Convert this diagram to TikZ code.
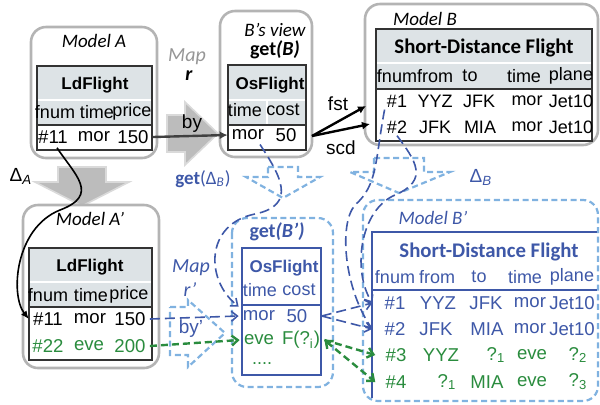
\documentclass[tikz,border=0pt]{standalone}
\usepackage{fontspec}
\setmainfont{Liberation Sans}
\newfontfamily\calfont{Carlito}
\usetikzlibrary{arrows.meta}
\definecolor{boxgray}{RGB}{180,180,180}
\definecolor{hdrfill}{RGB}{221,227,230}
\definecolor{lblue}{RGB}{128,178,224}
\definecolor{dblue}{RGB}{62,88,168}
\definecolor{fgreen}{RGB}{42,140,62}
\definecolor{arrgray}{RGB}{188,188,188}
\definecolor{mapgray}{RGB}{150,150,150}

\begin{document}
\begin{tikzpicture}[
  x=0.5pt, y=-0.5pt,
  model/.style={draw=boxgray, line width=1.3pt, rounded corners=7.5pt, fill=white},
  vmodel/.style={draw=lblue, line width=1.1pt, dash pattern=on 3pt off 1.8pt, rounded corners=7.5pt, fill=white},
  blockarr/.style={fill=arrgray, draw=arrgray!55!white, line width=0.8pt},
  vblockarr/.style={draw=lblue, line width=1.1pt, dash pattern=on 3pt off 1.8pt},
  mtitle/.style={font=\calfont\itshape\fontsize{9.5}{11}\selectfont, inner sep=1pt},
  tname/.style={font=\bfseries\fontsize{8.5}{10}\selectfont, inner sep=1pt},
  cname/.style={font=\calfont\bfseries\fontsize{10.4}{12}\selectfont, inner sep=1pt},
  colhd/.style={font=\fontsize{9}{10}\selectfont, inner sep=1pt},
  cell/.style={font=\fontsize{9.3}{10}\selectfont, inner sep=2pt},
  lbl/.style={font=\fontsize{9.5}{11}\selectfont, inner sep=1pt},
  tline/.style={draw=black!80, line width=0.6pt},
  bline/.style={draw=dblue, line width=0.6pt},
  hsep/.style={draw=white, line width=0.8pt},
  trace/.style={draw=dblue, line width=0.8pt, dash pattern=on 5pt off 2.5pt, -{Straight Barb[length=3pt,width=5pt]}},
  gtrace/.style={draw=fgreen, line width=1.2pt, dash pattern=on 3.5pt off 2pt, -{Straight Barb[length=3pt,width=5pt]}},
  link/.style={draw=black!75, line width=1.2pt, -{Latex[length=4pt,width=4pt]}}
]
  \useasboundingbox (0,0) rectangle (600,404);

  % block arrows
  \draw[blockarr] (167,115) -- (185,115) -- (185,102) -- (218,133.5) -- (185,165) -- (185,152) -- (167,152) -- cycle;
  \draw[blockarr] (58,167) -- (106,167) -- (106,182) -- (129,182) -- (82,206) -- (35,182) -- (58,182) -- cycle;
  \draw[vblockarr] (268,167) -- (298,167) -- (298,177) -- (320,177) -- (283,198) -- (246,177) -- (268,177) -- cycle;
  \draw[vblockarr] (374,158) -- (424,158) -- (424,172) -- (450,172) -- (399,193) -- (350,172) -- (374,172) -- cycle;
  \draw[vblockarr] (170,307) -- (188,307) -- (188,300) -- (225,333) -- (188,367) -- (188,355) -- (170,355) -- cycle;

  % Model A
  \draw[model] (31,27) rectangle (157,158);
  \node[mtitle] (mA) at (94,41) {Model A};
  \fill[hdrfill] (37,66) rectangle (152,125);
  \draw[hsep] (37,100) -- (152,100);
  \draw[tline] (37,66) rectangle (152,150);
  \draw[tline] (37,125) -- (152,125);
  \node[tname] (aN) at (95,85) {LdFlight};
  \node[colhd] (aHf) at (55,112) {fnum};
  \node[colhd] (aHt) at (97,112) {time};
  \node[colhd] (aHp) at (132,112) {price};
  \node[cell] (a11) at (53,137) {\#11};
  \node[cell] (amor) at (94,137) {mor};
  \node[cell] (a150) at (133,137) {150};

  % B's view
  \draw[model] (220,11) rectangle (312,157);
  \node[mtitle] (vT) at (275,30) {B’s view};
  \node[font=\calfont\bfseries\fontsize{10}{12}\selectfont, inner sep=1pt] (vG) at (275,50) {get\textit{(B)}};
  \fill[hdrfill] (228,65) rectangle (306,125);
  \draw[hsep] (228,100) -- (306,100);
  \draw[hsep] (267,100) -- (267,125);
  \draw[tline] (228,65) rectangle (306,150);
  \draw[tline] (228,125) -- (306,125);
  \node[tname] (vN) at (270,85) {OsFlight};
  \node[colhd] (vHt) at (245,110) {time};
  \node[colhd] (vHc) at (283,110) {cost};
  \node[cell] (vmor) at (248,135) {mor};
  \node[cell] (v50) at (286,135) {50};

  % Model B
  \draw[model] (365,4) rectangle (598,145);
  \node[mtitle] (mB) at (425,19) {Model B};
  \fill[hdrfill] (376,29) rectangle (592,89);
  \draw[hsep] (376,63) -- (592,63);
  \draw[tline] (376,29) rectangle (592,141);
  \draw[tline] (376,89) -- (592,89);
  \node[cname] (bN) at (484,48) {Short-Distance Flight};
  \node[colhd] (bHf) at (397,76) {fnum};
  \node[colhd] (bHr) at (435,76) {from};
  \node[colhd] (bHo) at (470,76) {to};
  \node[colhd] (bHt) at (524,76) {time};
  \node[colhd] (bHp) at (571,76) {plane};
  \node[colhd] (b1) at (397,101) {\#1};
  \node[colhd] (b1f) at (435,101) {YYZ};
  \node[colhd] (b1o) at (479,101) {JFK};
  \node[colhd] (b1t) at (527,101) {mor};
  \node[colhd] (b1p) at (571,101) {Jet10};
  \node[colhd] (b2) at (397,127) {\#2};
  \node[colhd] (b2f) at (435,127) {JFK};
  \node[colhd] (b2o) at (480,127) {MIA};
  \node[colhd] (b2t) at (527,127) {mor};
  \node[colhd] (b2p) at (571,127) {Jet10};

  % Model A'
  \draw[model] (23,205) rectangle (159,368);
  \node[mtitle] (mP) at (90,219) {Model A’};
  \fill[hdrfill] (29,248) rectangle (152,307);
  \draw[hsep] (29,282) -- (152,282);
  \draw[tline] (29,248) rectangle (152,360);
  \draw[tline] (29,307) -- (152,307);
  \node[tname] (pN) at (90,267) {LdFlight};
  \node[colhd] (pHf) at (48,295) {fnum};
  \node[colhd] (pHt) at (91,295) {time};
  \node[colhd] (pHp) at (129,295) {price};
  \node[cell] (p11) at (48,319) {\#11};
  \node[cell] (pmor) at (90,319) {mor};
  \node[cell] (p150) at (130,319) {150};
  \node[cell, text=fgreen] (p22) at (48,346) {\#22};
  \node[cell, text=fgreen] (peve) at (89,346) {eve};
  \node[cell, text=fgreen] (p200) at (130,346) {200};

  % get(B')
  \draw[vmodel] (232,218) rectangle (333,387);
  \node[font=\calfont\bfseries\fontsize{10}{12}\selectfont, text=dblue, inner sep=1pt] (gG) at (277,232) {get\textit{(B’)}};
  \draw[bline] (242,248) rectangle (321,375);
  \draw[bline] (242,305) -- (321,305);
  \node[tname, text=dblue] (gN) at (284,268) {OsFlight};
  \node[colhd, text=dblue] (gHt) at (260,290) {time};
  \node[colhd, text=dblue] (gHc) at (299,290) {cost};
  \node[cell, text=dblue] (gmor) at (259,316) {mor};
  \node[cell, text=dblue] (g50) at (297,316) {50};
  \node[cell, text=fgreen] (geve) at (259,340) {eve};
  \node[cell, text=fgreen] (gF) at (301,340) {F(?\textsubscript{i})};
  \node[colhd, text=fgreen] (gdots) at (262,364) {....};

  % Model B'
  \draw[vmodel] (363,200) rectangle (598,401);
  \node[mtitle, text=dblue] (mQ) at (433,218) {Model B’};
  \draw[bline] (597,232) -- (372,232) -- (372,398);
  \draw[bline] (372,290) -- (597,290);
  \node[cname, text=dblue] (qN) at (489,252) {Short-Distance Flight};
  \node[colhd, text=dblue] (qHf) at (395,277) {fnum};
  \node[colhd, text=dblue] (qHr) at (437,277) {from};
  \node[colhd, text=dblue] (qHo) at (479,277) {to};
  \node[colhd, text=dblue] (qHt) at (525,277) {time};
  \node[colhd, text=dblue] (qHp) at (572,277) {plane};
  \node[cell, text=dblue] (q1) at (395,303) {\#1};
  \node[cell, text=dblue] (q1f) at (438,303) {YYZ};
  \node[cell, text=dblue] (q1o) at (486,303) {JFK};
  \node[cell, text=dblue] (q1t) at (530,303) {mor};
  \node[cell, text=dblue] (q1p) at (572,303) {Jet10};
  \node[cell, text=dblue] (q2) at (395,329) {\#2};
  \node[cell, text=dblue] (q2f) at (436,329) {JFK};
  \node[cell, text=dblue] (q2o) at (487,329) {MIA};
  \node[cell, text=dblue] (q2t) at (530,329) {mor};
  \node[cell, text=dblue] (q2p) at (572,329) {Jet10};
  \node[cell, text=fgreen] (q3) at (396,355) {\#3};
  \node[cell, text=fgreen] (q3f) at (441,355) {YYZ};
  \node[cell, text=fgreen] (q3o) at (496,355) {?\textsubscript{1}};
  \node[cell, text=fgreen] (q3t) at (532,355) {eve};
  \node[cell, text=fgreen] (q3p) at (578,355) {?\textsubscript{2}};
  \node[cell, text=fgreen] (q4) at (396,382) {\#4};
  \node[cell, text=fgreen] (q4f) at (447,382) {?\textsubscript{1}};
  \node[cell, text=fgreen] (q4o) at (487,382) {MIA};
  \node[cell, text=fgreen] (q4t) at (532,382) {eve};
  \node[cell, text=fgreen] (q4p) at (578,382) {?\textsubscript{3}};

  % labels
  \node[font=\calfont\itshape\fontsize{10}{12}\selectfont, text=mapgray, inner sep=1pt] (mapr) at (187,57) {Map};
  \node[font=\calfont\bfseries\itshape\fontsize{10}{12}\selectfont, inner sep=1pt] (rr) at (189,76) {r};
  \node[lbl] (by) at (192,124) {by};
  \node[font=\calfont\itshape\fontsize{10}{12}\selectfont, text=dblue, inner sep=1pt] (mapp) at (191,268) {Map};
  \node[font=\calfont\itshape\fontsize{10}{12}\selectfont, text=dblue, inner sep=1pt] (rp) at (190,290) {r’};
  \node[lbl, text=dblue] (byp) at (191,329) {by’};
  \node[lbl] (dA) at (21,176) {Δ\textsubscript{\textit{A}}};
  \node[lbl, text=dblue] (dB) at (481,177) {Δ\textsubscript{\textit{B}}};
  \node[lbl, text=dblue] (gdB) at (203,179) {\calfont\bfseries get\mdseries(Δ\textsubscript{\textit{B}})};
  \node[lbl] (fst) at (338,104) {fst};
  \node[lbl] (scd) at (341,148) {scd};

  % connectors
  \coordinate (vR) at (312,136);
  \coordinate (bIn1) at (366,106);
  \coordinate (bIn2) at (370,124);
  \draw[link] (a150.east) -- (vmor.west);
  \draw[link, draw=black] (vR) -- (bIn1);
  \draw[link, draw=black] (vR) -- (bIn2);
  \draw[black, line width=0.8pt, -{Latex[length=4pt,width=3.5pt]}] ([xshift=2pt]a11.south) .. controls (75,175) and (100,195) .. (60,210) .. controls (15,228) and (10,295) .. (p11.west);
  \draw[trace] ([xshift=6pt]vmor.south) .. controls (280,175) and (298,205) .. (255,214) .. controls (205,224) and (205,280) .. (gmor.north west);
  \draw[trace] (b1.south west) .. controls (375,160) and (378,185) .. (355,205) .. controls (338,225) and (345,290) .. ([xshift=-4pt]q2.west);
  \draw[trace] (b2.south) .. controls (415,160) and (430,180) .. (395,195) .. controls (360,210) and (352,270) .. ([xshift=-4pt]q1.west);
  \draw[trace] (p150.east) -- (gmor.west);
  \draw[trace] ([xshift=5pt]g50.east) -- ([xshift=-4pt]q1.west);
  \draw[trace] ([xshift=5pt]g50.east) -- ([xshift=-4pt]q2.west);
  \draw[gtrace] (p200.east) -- (geve.west);
  \draw[gtrace] (gF.east) -- ([xshift=-3pt]q3.west);
  \draw[gtrace, {Straight Barb[length=3pt,width=5pt]}-{Straight Barb[length=3pt,width=5pt]}] (gF.east) -- ([xshift=-3pt]q4.west);
\end{tikzpicture}
\end{document}
